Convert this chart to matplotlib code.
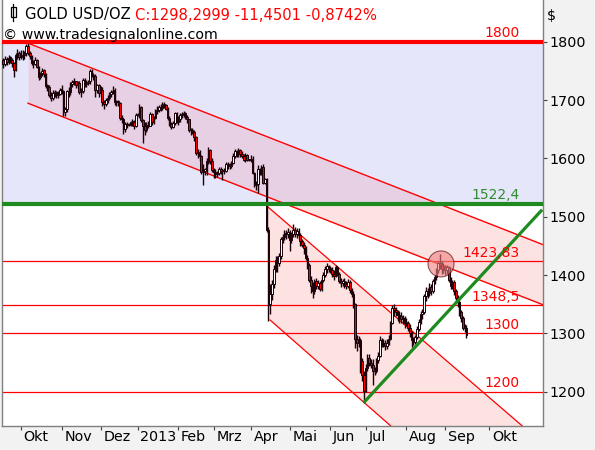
import numpy as np
import matplotlib
matplotlib.use("Agg")
import matplotlib.pyplot as plt
from matplotlib.patches import Ellipse, Rectangle
from matplotlib.lines import Line2D

# ---------------- data (trading-day index, 0 = 1 Oct 2012) ----------------
first_index = -10

opens = [
    # Sep 2012
    1768, 1762, 1771, 1765, 1773, 1769, 1763, 1753, 1777, 1780,
    # Oct
    1773, 1776, 1777, 1780, 1792, 1780, 1775, 1765, 1762, 1769, 1756, 1740, 1746, 1751, 1744, 1725, 1723, 1708, 1703, 1712, 1713, 1708, 1711,
    # Nov
    1719, 1716, 1679, 1684, 1715, 1713, 1727, 1731, 1732, 1726, 1729, 1713, 1715, 1734, 1728, 1729, 1732, 1750, 1743, 1741, 1717, 1725,
    # Dec
    1712, 1718, 1696, 1694, 1700, 1704, 1710, 1714, 1717, 1696, 1697, 1695, 1670, 1667, 1650, 1659, 1658, 1659, 1662, 1663, 1656,
    # Jan 2013
    1675, 1675, 1688, 1665, 1656, 1648, 1658, 1656, 1676, 1662, 1669, 1681, 1683, 1688, 1687, 1692, 1692, 1685, 1669, 1659, 1654, 1661, 1677,
    # Feb
    1663, 1667, 1674, 1676, 1677, 1671, 1667, 1649, 1649, 1645, 1636, 1611, 1610, 1604, 1577, 1578, 1581, 1594, 1614, 1596,
    # Mar
    1580, 1576, 1573, 1575, 1582, 1579, 1578, 1578, 1591, 1588, 1587, 1592, 1604, 1612, 1608, 1614, 1608, 1604, 1597, 1606, 1597,
    # Apr
    1597, 1599, 1575, 1555, 1556, 1581, 1574, 1586, 1558, 1564, 1477, 1350, 1368, 1385, 1410, 1424, 1420, 1432, 1462, 1465, 1472, 1470,
    # May
    1474, 1460, 1470, 1478, 1470, 1476, 1468, 1458, 1452, 1447, 1430, 1418, 1392, 1382, 1372, 1390, 1382, 1386, 1376, 1392, 1400, 1410, 1416,
    # Jun
    1412, 1408, 1402, 1398, 1414, 1402, 1390, 1386, 1390, 1384, 1382, 1388, 1374, 1368, 1350, 1290, 1284, 1288, 1252, 1228,
    # Jul
    1202, 1240, 1258, 1250, 1246, 1236, 1236, 1254, 1262, 1288, 1280, 1284, 1278, 1284, 1290, 1318, 1344, 1340, 1336, 1332, 1330, 1324, 1326,
    # Aug
    1318, 1318, 1310, 1300, 1288, 1286, 1294, 1308, 1320, 1334, 1336, 1364, 1372, 1370, 1380, 1372, 1390, 1396, 1408, 1420, 1418, 1410,
    # Sep
    1414, 1408, 1414, 1392, 1382, 1388, 1372, 1360, 1354, 1336, 1326, 1310, 1310,
]
highs = [
    1772, 1775, 1774, 1778, 1776, 1772, 1766, 1781, 1787, 1784,
    1786, 1785, 1784, 1796, 1797, 1784, 1777, 1769, 1773, 1771, 1758, 1748, 1755, 1754, 1746, 1728, 1726, 1713, 1718, 1718, 1716, 1716, 1721,
    1725, 1718, 1688, 1718, 1722, 1731, 1735, 1738, 1733, 1732, 1732, 1720, 1738, 1737, 1734, 1734, 1754, 1754, 1747, 1744, 1728, 1728,
    1724, 1722, 1700, 1703, 1708, 1713, 1718, 1724, 1720, 1700, 1700, 1697, 1675, 1670, 1662, 1663, 1661, 1664, 1668, 1666, 1677,
    1677, 1694, 1690, 1667, 1662, 1663, 1664, 1680, 1678, 1672, 1685, 1689, 1692, 1694, 1696, 1697, 1694, 1688, 1673, 1662, 1664, 1680, 1680,
    1672, 1678, 1680, 1682, 1680, 1674, 1668, 1652, 1652, 1648, 1638, 1616, 1614, 1606, 1590, 1584, 1600, 1619, 1616, 1600,
    1584, 1582, 1578, 1586, 1586, 1582, 1584, 1594, 1593, 1592, 1596, 1609, 1616, 1615, 1617, 1616, 1612, 1608, 1609, 1608, 1599,
    1606, 1604, 1577, 1562, 1588, 1584, 1588, 1590, 1566, 1566, 1483, 1385, 1392, 1418, 1432, 1433, 1438, 1466, 1470, 1478, 1478, 1480,
    1478, 1474, 1488, 1482, 1480, 1480, 1472, 1462, 1456, 1450, 1434, 1420, 1398, 1388, 1394, 1395, 1392, 1390, 1396, 1405, 1415, 1420, 1418,
    1416, 1414, 1408, 1418, 1416, 1406, 1395, 1394, 1395, 1390, 1393, 1392, 1378, 1372, 1352, 1298, 1296, 1292, 1258, 1236,
    1248, 1265, 1264, 1256, 1256, 1242, 1258, 1268, 1296, 1292, 1290, 1288, 1290, 1298, 1322, 1348, 1350, 1346, 1340, 1338, 1336, 1332, 1330,
    1326, 1322, 1316, 1304, 1294, 1298, 1312, 1324, 1338, 1342, 1368, 1380, 1378, 1386, 1384, 1394, 1400, 1412, 1424, 1436, 1424, 1420,
    1418, 1418, 1416, 1396, 1392, 1392, 1376, 1366, 1358, 1340, 1330, 1316, 1314,
]
lows = [
    1755, 1758, 1760, 1762, 1764, 1757, 1740, 1750, 1770, 1768,
    1770, 1768, 1771, 1776, 1777, 1770, 1760, 1755, 1760, 1755, 1735, 1736, 1741, 1740, 1720, 1715, 1705, 1698, 1700, 1706, 1703, 1704, 1708,
    1711, 1672, 1673, 1680, 1706, 1708, 1722, 1726, 1720, 1720, 1710, 1706, 1712, 1722, 1723, 1726, 1728, 1740, 1735, 1705, 1712, 1705,
    1708, 1690, 1684, 1690, 1695, 1700, 1706, 1710, 1692, 1690, 1689, 1666, 1660, 1642, 1646, 1652, 1655, 1655, 1656, 1651, 1654,
    1672, 1670, 1662, 1626, 1640, 1645, 1652, 1655, 1658, 1659, 1667, 1676, 1680, 1682, 1683, 1686, 1683, 1666, 1655, 1651, 1652, 1658, 1660,
    1658, 1662, 1669, 1671, 1667, 1660, 1645, 1640, 1641, 1630, 1605, 1600, 1595, 1574, 1555, 1572, 1572, 1590, 1590, 1576,
    1566, 1566, 1568, 1572, 1574, 1563, 1573, 1577, 1582, 1582, 1584, 1590, 1600, 1602, 1603, 1603, 1601, 1595, 1594, 1595, 1595,
    1593, 1573, 1551, 1546, 1540, 1572, 1572, 1556, 1556, 1473, 1321, 1334, 1358, 1378, 1406, 1405, 1415, 1428, 1455, 1460, 1462, 1464,
    1442, 1455, 1466, 1466, 1464, 1462, 1450, 1448, 1436, 1425, 1410, 1388, 1370, 1360, 1368, 1376, 1376, 1372, 1372, 1388, 1396, 1404, 1406,
    1404, 1396, 1392, 1396, 1398, 1386, 1380, 1382, 1378, 1376, 1378, 1370, 1362, 1344, 1275, 1270, 1276, 1232, 1218, 1180,
    1200, 1236, 1244, 1240, 1212, 1228, 1232, 1250, 1260, 1276, 1276, 1272, 1274, 1280, 1288, 1316, 1330, 1330, 1322, 1318, 1318, 1316, 1310,
    1312, 1304, 1294, 1276, 1280, 1282, 1290, 1304, 1316, 1324, 1334, 1356, 1360, 1364, 1366, 1370, 1384, 1392, 1404, 1410, 1402, 1404,
    1400, 1402, 1388, 1376, 1376, 1366, 1354, 1346, 1330, 1320, 1306, 1302, 1292,
]
closes = [
    1762, 1770, 1766, 1772, 1770, 1764, 1752, 1778, 1779, 1774,
    1776, 1778, 1779, 1792, 1781, 1775, 1764, 1763, 1768, 1757, 1739, 1746, 1750, 1744, 1724, 1722, 1708, 1704, 1712, 1712, 1708, 1711, 1718,
    1716, 1680, 1684, 1715, 1714, 1727, 1731, 1732, 1725, 1728, 1713, 1715, 1734, 1728, 1729, 1731, 1750, 1743, 1740, 1718, 1725, 1712,
    1718, 1696, 1694, 1700, 1704, 1710, 1714, 1716, 1696, 1697, 1696, 1670, 1667, 1650, 1659, 1658, 1659, 1662, 1663, 1656, 1675,
    1675, 1688, 1665, 1656, 1648, 1658, 1656, 1676, 1662, 1669, 1681, 1683, 1688, 1687, 1692, 1692, 1685, 1669, 1659, 1654, 1661, 1677, 1663,
    1667, 1674, 1676, 1677, 1671, 1667, 1649, 1649, 1645, 1636, 1610, 1610, 1604, 1577, 1578, 1581, 1595, 1614, 1596, 1580,
    1576, 1573, 1575, 1582, 1579, 1578, 1578, 1591, 1588, 1587, 1592, 1604, 1612, 1608, 1614, 1608, 1604, 1597, 1606, 1597, 1597,
    1599, 1575, 1555, 1556, 1581, 1574, 1586, 1558, 1564, 1477, 1348, 1368, 1385, 1410, 1425, 1420, 1432, 1462, 1465, 1472, 1470, 1474,
    1460, 1470, 1478, 1470, 1476, 1468, 1458, 1452, 1447, 1430, 1418, 1392, 1382, 1372, 1390, 1382, 1386, 1376, 1392, 1400, 1410, 1416, 1412,
    1408, 1402, 1398, 1414, 1402, 1390, 1386, 1390, 1384, 1382, 1388, 1374, 1368, 1350, 1290, 1284, 1288, 1252, 1228, 1202,
    1240, 1258, 1250, 1246, 1236, 1236, 1254, 1262, 1288, 1280, 1284, 1278, 1284, 1290, 1318, 1344, 1340, 1336, 1332, 1330, 1324, 1326, 1318,
    1318, 1310, 1300, 1288, 1286, 1294, 1308, 1320, 1334, 1336, 1364, 1372, 1370, 1380, 1372, 1390, 1396, 1408, 1420, 1418, 1410, 1414,
    1408, 1414, 1392, 1382, 1388, 1372, 1360, 1354, 1336, 1326, 1310, 1310, 1298,
]

month_pos = [0, 23, 45, 66, 89, 109, 130, 152, 175, 195, 218, 240, 265]
month_labels = ["Okt", "Nov", "Dez", "2013", "Feb", "Mrz", "Apr", "Mai", "Jun", "Jul", "Aug", "Sep", "Okt"]
y_ticks = [1200, 1300, 1400, 1500, 1600, 1700, 1800]

# horizontal levels
level_values = [1800, 1522.4, 1423.83, 1348.5, 1300, 1200]
level_labels = ["1800", "1522,4", "1423,83", "1348,5", "1300", "1200"]

# channels: (start index, upper start price, lower start price, slope $/day)
ch1 = (4.0, 1797.5, 1694.5, -1.186)
ch2_upper = [(139.6, 1517.0), (283.4, 1141.7)]
ch2_lower = [(140.9, 1322.9), (209.0, 1141.7)]
trend_pts = [(193.8, 1181.0), (294.8, 1512.0)]
circle_center = (237.6, 1419.0)

title_black = "GOLD USD/OZ "
title_red = "C:1298,2999 -11,4501 -0,8742%"
copyright_txt = "\u00a9 www.tradesignalonline.com"

# ---------------- figure ----------------
W, H = 595, 450
fig = plt.figure(figsize=(W / 100, H / 100), dpi=100)
fig.patch.set_facecolor("#f2f2f2")
ax = fig.add_axes([1.5 / W, (H - 425.7) / H, 541.0 / W, 425.7 / H])
ax.set_facecolor("white")
XMIN, XMAX = -11.0, 295.0
YMIN, YMAX = 1141.7, 1871.5
ax.set_xlim(XMIN, XMAX)
ax.set_ylim(YMIN, YMAX)

RED = "#ff0000"
GREEN = "#1f8a1f"
LAV = "#e6e6fa"
PINK = "#fde2e2"
LAVPINK = "#e8d0e4"

# lavender band
ax.axhspan(level_values[1], level_values[0], color=LAV, zorder=0.5, lw=0)

# channel 1
xs1 = np.linspace(ch1[0], XMAX + 5, 400)
up1 = ch1[1] + ch1[3] * (xs1 - ch1[0])
lo1 = ch1[2] + ch1[3] * (xs1 - ch1[0])
g = level_values[1]
ax.fill_between(xs1, np.clip(lo1, g, 1800), np.clip(up1, g, 1800), color=LAVPINK, lw=0, zorder=0.8)
ax.fill_between(xs1, np.minimum(lo1, g), np.minimum(up1, g), color=PINK, lw=0, zorder=0.8)
ax.plot(xs1, up1, color=RED, lw=1.0, zorder=2)
ax.plot(xs1, lo1, color=RED, lw=1.0, zorder=2)

# channel 2
def line_fn(pts, x):
    (x0, y0), (x1, y1) = pts
    return y0 + (y1 - y0) / (x1 - x0) * (x - x0)

xs2 = np.linspace(ch2_upper[0][0], XMAX + 5, 400)
up2 = line_fn(ch2_upper, xs2)
lo2 = line_fn(ch2_lower, xs2)
ax.fill_between(xs2, lo2, up2, color=PINK, lw=0, zorder=0.8)
ax.plot(xs2, up2, color=RED, lw=0.9, zorder=2)
xs2b = np.linspace(ch2_lower[0][0], XMAX + 5, 400)
ax.plot(xs2b, line_fn(ch2_lower, xs2b), color=RED, lw=0.9, zorder=2)

# level lines
for v, lab in zip(level_values, level_labels):
    if v == 1800:
        ax.axhline(v, color=RED, lw=3.0, zorder=4)
        col = RED
    elif v == 1522.4:
        ax.axhline(v, color=GREEN, lw=3.0, zorder=4)
        col = "#2e8b2e"
    else:
        ax.axhline(v, color=RED, lw=0.9, zorder=2)
        col = RED
    ax.annotate(lab, xy=(282.3, v), xytext=(0, 3.2), textcoords="offset points",
                ha="right", va="baseline", fontsize=10, color=col, zorder=6,
                fontfamily="DejaVu Sans")

# candles
o = np.array(opens, float)
h = np.array(highs, float)
l = np.array(lows, float)
c = np.array(closes, float)
x = np.arange(len(c)) + first_index
EDGE = "#1a0008"
ax.vlines(x, l, h, color=EDGE, lw=1.0, zorder=3)
body = np.maximum(np.abs(c - o), 1.5)
bottom = np.minimum(o, c)
colors = np.where(c >= o, "white", "#ff0000")
ax.bar(x, body, bottom=bottom, width=0.9, color=colors, edgecolor=EDGE, linewidth=0.7, zorder=3.2)

# green trend line
xt = np.array([trend_pts[0][0], trend_pts[1][0]])
ax.plot(xt, line_fn(trend_pts, xt), color=GREEN, lw=2.3, zorder=4.5, solid_capstyle="butt")

# circle
circ = Ellipse(circle_center, width=26 / 1.768, height=26 / 0.5833, facecolor="#f08080",
               alpha=0.6, edgecolor="#400000", lw=0.8, zorder=5)
ax.add_patch(circ)

# axes styling
ax.spines["top"].set_visible(False)
for s in ["left", "right", "bottom"]:
    ax.spines[s].set_color("#7f7f7f")
    ax.spines[s].set_linewidth(1.0)
ax.yaxis.tick_right()
ax.set_yticks(y_ticks)
ax.set_yticklabels([str(v) for v in y_ticks], fontsize=10.3, fontfamily="DejaVu Sans")
ax.tick_params(axis="y", length=3, width=0.8, color="#404040", pad=2)
ax.set_xticks(month_pos)
ax.set_xticklabels([""] * len(month_pos))
ax.tick_params(axis="x", length=3, width=0.8, color="#404040", direction="out")
for p, lab in zip(month_pos, month_labels):
    ax.annotate(lab, xy=(p, 0), xycoords=("data", "axes fraction"), xytext=(2.0, -3.0),
                textcoords="offset points", ha="left", va="top", fontsize=10.3,
                fontfamily="DejaVu Sans", annotation_clip=False)

# header texts
fig.canvas.draw()
r = fig.canvas.get_renderer()
t1 = fig.text(25 / W, 1 - 19.5 / H, title_black, fontsize=10.6, color="black",
              va="baseline", ha="left", fontfamily="DejaVu Sans")
bb = t1.get_window_extent(renderer=r)
fig.text(bb.x1 / W, 1 - 19.5 / H, title_red, fontsize=10.6, color=RED,
         va="baseline", ha="left", fontfamily="DejaVu Sans")
fig.text(3 / W, 1 - 39.5 / H, copyright_txt, fontsize=10.2, color="black",
         va="baseline", ha="left", fontfamily="DejaVu Sans", zorder=10)
fig.text(547 / W, 1 - 20 / H, "$", fontsize=10.3, color="black", va="baseline", ha="left",
         fontfamily="DejaVu Sans")

# small candle icon
fig.add_artist(Line2D([13.3 / W, 13.3 / W], [1 - 4 / H, 1 - 20.5 / H], color="black", lw=0.9,
                      transform=fig.transFigure))
fig.add_artist(Rectangle((10.5 / W, 1 - 16.7 / H), 5.6 / W, 9.4 / H, facecolor="white",
                         edgecolor="black", lw=0.9, transform=fig.transFigure))

fig.savefig("out.png", dpi=100, facecolor=fig.get_facecolor())
